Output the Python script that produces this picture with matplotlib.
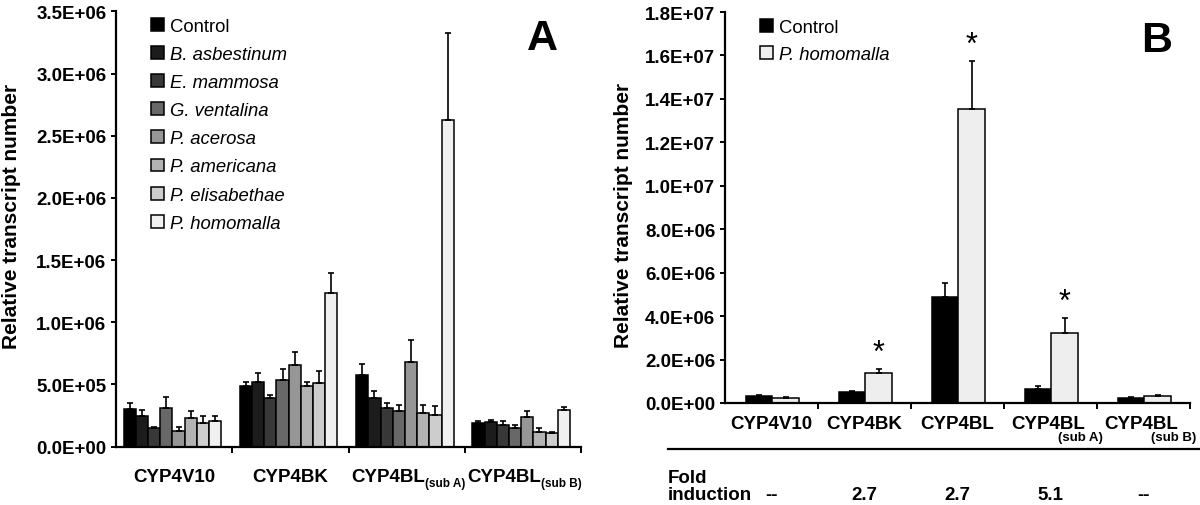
import matplotlib
matplotlib.use('Agg')
import matplotlib.pyplot as plt
import numpy as np
from matplotlib.patches import Patch
from matplotlib.lines import Line2D
from matplotlib.ticker import FuncFormatter

plt.rcParams['font.family'] = ['Liberation Sans', 'DejaVu Sans']

# ---------------- Panel A data ----------------
genes_A = ['CYP4V10', 'CYP4BK', 'CYP4BL', 'CYP4BL']
subs_A = ['', '', '(sub A)', '(sub B)']
species_A = ['Control', 'B. asbestinum', 'E. mammosa', 'G. ventalina',
             'P. acerosa', 'P. americana', 'P. elisabethae', 'P. homomalla']
italic_A = [False, True, True, True, True, True, True, True]
colors_A = ['#000000', '#1c1c1c', '#383838', '#686868',
            '#969696', '#b3b3b3', '#cdcdcd', '#f0f0f0']
# values (x1e6) per species across the four genes
control_A = [0.303, 0.487, 0.573, 0.192]
basb_A = [0.245, 0.518, 0.387, 0.195]
emam_A = [0.145, 0.387, 0.310, 0.176]
gven_A = [0.308, 0.538, 0.282, 0.150]
pace_A = [0.126, 0.653, 0.677, 0.234]
pame_A = [0.232, 0.487, 0.271, 0.118]
peli_A = [0.189, 0.513, 0.250, 0.105]
phom_A = [0.203, 1.236, 2.626, 0.292]
# upper error (x1e6)
control_A_err = [0.047, 0.031, 0.094, 0.011]
basb_A_err = [0.052, 0.072, 0.060, 0.015]
emam_A_err = [0.010, 0.029, 0.040, 0.027]
gven_A_err = [0.087, 0.082, 0.055, 0.021]
pace_A_err = [0.032, 0.107, 0.181, 0.048]
pame_A_err = [0.050, 0.031, 0.066, 0.027]
peli_A_err = [0.053, 0.097, 0.079, 0.013]
phom_A_err = [0.039, 0.164, 0.702, 0.024]

vals_A = [control_A, basb_A, emam_A, gven_A, pace_A, pame_A, peli_A, phom_A]
errs_A = [control_A_err, basb_A_err, emam_A_err, gven_A_err,
          pace_A_err, pame_A_err, peli_A_err, phom_A_err]

# ---------------- Panel B data ----------------
genes_B = ['CYP4V10', 'CYP4BK', 'CYP4BL', 'CYP4BL', 'CYP4BL']
subs_B = ['', '', '', '(sub A)', '(sub B)']
series_B = ['Control', 'P. homomalla']
colors_B = ['#000000', '#eeeeee']
control_B = [0.34, 0.52, 4.87, 0.66, 0.23]
control_B_err = [0.04, 0.05, 0.66, 0.10, 0.03]
phom_B = [0.25, 1.38, 13.55, 3.22, 0.34]
phom_B_err = [0.04, 0.19, 2.18, 0.70, 0.04]
significant_B = [False, True, True, True, False]
fold_B = ['--', '2.7', '2.7', '5.1', '--']

TICK_FS = 13.5
fig = plt.figure(figsize=(12, 5.06), dpi=100)

fmt = FuncFormatter(lambda v, p: f"{v:.1E}")


def style_axis(ax):
    for s in ['top', 'right']:
        ax.spines[s].set_visible(False)
    for s in ['left', 'bottom']:
        ax.spines[s].set_linewidth(1.6)
    ax.yaxis.set_major_formatter(fmt)
    ax.tick_params(axis='y', direction='out', length=3.5, width=1.4, pad=3.5,
                   labelsize=TICK_FS)
    ax.tick_params(axis='x', direction='out', length=4, width=1.4,
                   labelbottom=False)
    for lab in ax.get_yticklabels():
        lab.set_fontweight('bold')


# ================= Panel A =================
axA = fig.add_axes([0.0967, 0.1156, 0.3875, 0.8597])
nA = len(species_A)
wA = 0.105
xA = np.arange(len(genes_A))
for i in range(nA):
    pos = xA + 0.485 + (i - (nA - 1) / 2) * wA
    v = np.array(vals_A[i]) * 1e6
    e = np.array(errs_A[i]) * 1e6
    axA.bar(pos, v, width=wA, color=colors_A[i], edgecolor='black',
            linewidth=1.1, zorder=2, label=species_A[i])
    axA.errorbar(pos, v, yerr=[np.zeros_like(e), e], fmt='none',
                 ecolor='black', elinewidth=1.2, capsize=2.4, capthick=1.2,
                 zorder=3)
axA.set_xlim(0, len(genes_A))
axA.set_ylim(0, 3.5e6)
axA.set_yticks(np.arange(0, 3.5e6 + 1, 0.5e6))
axA.set_xticks(np.arange(1, len(genes_A) + 1))
style_axis(axA)
axA.set_ylabel('Relative transcript number', fontsize=15, fontweight='bold')
axA.yaxis.set_label_coords(-0.204, 0.532)

# x labels A
for k, (g, s) in enumerate(zip(genes_A, subs_A)):
    cx = k + 0.5
    if s == '':
        axA.annotate(g, xy=(cx, 0), xycoords=('data', 'axes fraction'),
                     xytext=(0, -25), textcoords='offset points',
                     ha='center', va='baseline', fontsize=TICK_FS,
                     fontweight='bold', annotation_clip=False)
    else:
        axA.annotate(g, xy=(cx, 0), xycoords=('data', 'axes fraction'),
                     xytext=(13, -25), textcoords='offset points',
                     ha='right', va='baseline', fontsize=TICK_FS,
                     fontweight='bold', annotation_clip=False)
        axA.annotate(s, xy=(cx, 0), xycoords=('data', 'axes fraction'),
                     xytext=(13, -28.5), textcoords='offset points',
                     ha='left', va='baseline', fontsize=8.5,
                     fontweight='bold', annotation_clip=False)

handlesA = [Patch(facecolor=c, edgecolor='black', linewidth=1.1) for c in colors_A]
legA = axA.legend(handlesA, species_A, loc='upper left',
                  bbox_to_anchor=(0.075, 0.985), frameon=False,
                  fontsize=13.3, borderpad=0, borderaxespad=0,
                  handlelength=0.7, handleheight=0.7, handletextpad=0.35,
                  labelspacing=0.60)
for t, it in zip(legA.get_texts(), italic_A):
    if it:
        t.set_fontstyle('italic')

axA.text(0.918, 0.939, 'A', transform=axA.transAxes, fontsize=31,
         fontweight='bold', ha='center', va='center')

# ================= Panel B =================
axB = fig.add_axes([0.6042, 0.2016, 0.3875, 0.7727])
wB = 0.285
xB = np.arange(len(genes_B))
seriesB_vals = [control_B, phom_B]
seriesB_errs = [control_B_err, phom_B_err]
for i in range(2):
    pos = xB + 0.51 + (i - 0.5) * wB
    v = np.array(seriesB_vals[i]) * 1e6
    e = np.array(seriesB_errs[i]) * 1e6
    axB.bar(pos, v, width=wB, color=colors_B[i], edgecolor='black',
            linewidth=1.1, zorder=2, label=series_B[i])
    axB.errorbar(pos, v, yerr=[np.zeros_like(e), e], fmt='none',
                 ecolor='black', elinewidth=1.2, capsize=2.4, capthick=1.2,
                 zorder=3)
    if i == 1:
        for p, vv, ee, sig in zip(pos, v, e, significant_B):
            if sig:
                axB.annotate('*', xy=(p, vv + ee), xytext=(0, 6),
                             textcoords='offset points', ha='center',
                             va='baseline', fontsize=22)
axB.set_xlim(0, len(genes_B))
axB.set_ylim(0, 1.8e7)
axB.set_yticks(np.arange(0, 1.8e7 + 1, 2e6))
axB.set_xticks(np.arange(1, len(genes_B) + 1))
style_axis(axB)
axB.set_ylabel('Relative transcript number', fontsize=15, fontweight='bold')
axB.yaxis.set_label_coords(-0.198, 0.481)

for k, (g, s) in enumerate(zip(genes_B, subs_B)):
    cx = k + 0.5
    axB.annotate(g, xy=(cx, 0), xycoords=('data', 'axes fraction'),
                 xytext=(-2 if s else 0, -18), textcoords='offset points',
                 ha='center', va='baseline', fontsize=TICK_FS,
                 fontweight='bold', annotation_clip=False)
    if s:
        axB.annotate(s, xy=(cx, 0), xycoords=('data', 'axes fraction'),
                     xytext=(21.5, -26.5), textcoords='offset points',
                     ha='center', va='baseline', fontsize=9.5,
                     fontweight='bold', annotation_clip=False)
    axB.annotate(fold_B[k], xy=(cx, 0.0119),
                 xycoords=('data', 'figure fraction'),
                 ha='center', va='baseline', fontsize=TICK_FS,
                 fontweight='bold', annotation_clip=False)

handlesB = [Patch(facecolor=c, edgecolor='black', linewidth=1.1) for c in colors_B]
legB = axB.legend(handlesB, series_B, loc='upper left',
                  bbox_to_anchor=(0.075, 0.982), frameon=False,
                  fontsize=13.3, borderpad=0, borderaxespad=0,
                  handlelength=0.7, handleheight=0.7, handletextpad=0.35,
                  labelspacing=0.52)
legB.get_texts()[1].set_fontstyle('italic')

axB.text(0.929, 0.928, 'B', transform=axB.transAxes, fontsize=31,
         fontweight='bold', ha='center', va='center')

fig.add_artist(Line2D([0.5567, 1.0], [0.1107, 0.1107], color='black',
                      linewidth=1.6, transform=fig.transFigure))
fig.text(0.5567, 0.0455, 'Fold', fontsize=TICK_FS, fontweight='bold',
         ha='left', va='baseline')
fig.text(0.5567, 0.0119, 'induction', fontsize=TICK_FS, fontweight='bold',
         ha='left', va='baseline')

fig.savefig('out.png', dpi=100)
